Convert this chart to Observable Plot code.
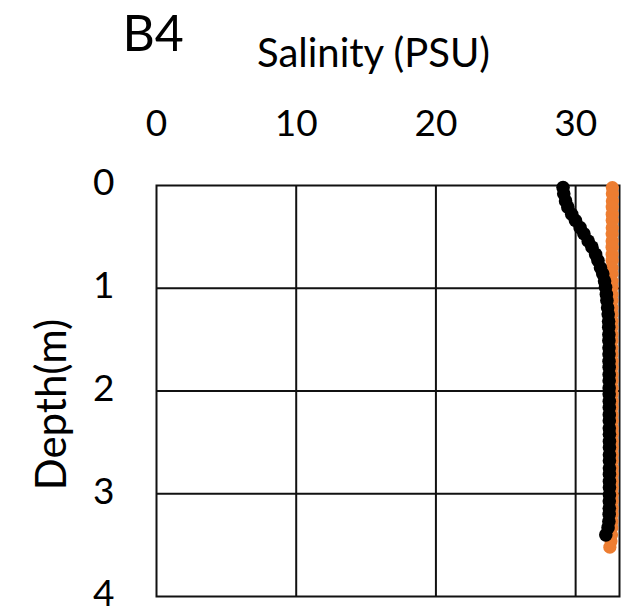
<!DOCTYPE html>
<html>
<head>
<meta charset="utf-8">
<script src="https://cdn.jsdelivr.net/npm/d3@7"></script>
<script src="https://cdn.jsdelivr.net/npm/@observablehq/plot@0.6"></script>
<style>
  html, body { margin: 0; padding: 0; background: #fff; }
</style>
</head>
<body>
<div id="chart"></div>
<script>
// Station and axis titles
const stationName = "B4";
const xTitle = "Salinity (PSU)";
const yTitle = "Depth(m)";

// Tick labels and grid positions
const xTicks = [0, 10, 20, 30];
const yTicks = [0, 1, 2, 3, 4];
const gridSalinity = [10, 20, 30];
const gridDepth = [1, 2, 3];

// Orange profile (depth in m, salinity in PSU)
const orangeDepth = [
  0.02, 0.08, 0.15, 0.21, 0.28, 0.34, 0.41, 0.47, 0.54, 0.60,
  0.67, 0.73, 0.80, 0.86, 0.93, 0.99, 1.06, 1.12, 1.19, 1.25,
  1.32, 1.38, 1.45, 1.51, 1.58, 1.64, 1.71, 1.77, 1.84, 1.90,
  1.97, 2.03, 2.10, 2.16, 2.23, 2.29, 2.36, 2.42, 2.49, 2.55,
  2.62, 2.68, 2.75, 2.81, 2.88, 2.94, 3.01, 3.07, 3.14, 3.20,
  3.27, 3.33, 3.40, 3.46, 3.52
];
const orangeSalinity = [
  32.63, 32.63, 32.63, 32.62, 32.62, 32.62, 32.62, 32.61, 32.61, 32.61,
  32.61, 32.61, 32.60, 32.60, 32.60, 32.60, 32.60, 32.60, 32.60, 32.60,
  32.60, 32.60, 32.60, 32.60, 32.60, 32.60, 32.61, 32.61, 32.61, 32.61,
  32.61, 32.61, 32.61, 32.61, 32.61, 32.62, 32.62, 32.62, 32.62, 32.62,
  32.62, 32.62, 32.62, 32.62, 32.62, 32.62, 32.62, 32.62, 32.61, 32.61,
  32.60, 32.59, 32.57, 32.53, 32.45
];

// Black profile (depth in m, salinity in PSU)
const blackDepth = [
  0.02, 0.08, 0.15, 0.21, 0.28, 0.34, 0.41, 0.47, 0.54, 0.60,
  0.67, 0.73, 0.80, 0.86, 0.93, 0.99, 1.06, 1.12, 1.19, 1.25,
  1.32, 1.38, 1.45, 1.51, 1.58, 1.64, 1.71, 1.77, 1.84, 1.90,
  1.97, 2.03, 2.10, 2.16, 2.23, 2.29, 2.36, 2.42, 2.49, 2.55,
  2.62, 2.68, 2.75, 2.81, 2.88, 2.94, 3.01, 3.07, 3.14, 3.20,
  3.27, 3.33, 3.40
];
const blackSalinity = [
  29.10, 29.15, 29.28, 29.44, 29.72, 29.99, 30.32, 30.59, 30.90, 31.17,
  31.43, 31.60, 31.78, 31.94, 32.07, 32.14, 32.20, 32.24, 32.29, 32.33,
  32.36, 32.37, 32.38, 32.38, 32.39, 32.39, 32.39, 32.40, 32.40, 32.40,
  32.40, 32.40, 32.41, 32.41, 32.41, 32.41, 32.41, 32.42, 32.42, 32.42,
  32.42, 32.42, 32.42, 32.42, 32.42, 32.42, 32.42, 32.41, 32.41, 32.40,
  32.38, 32.32, 32.16
];

const orangeRows = orangeDepth.map((d, i) => ({depth: d, salinity: orangeSalinity[i]}));
const blackRows = blackDepth.map((d, i) => ({depth: d, salinity: blackSalinity[i]}));

const lineColor = "#111";
const font = "Lato, 'Open Sans', sans-serif";

const chart = Plot.plot({
  width: 624,
  height: 610,
  marginLeft: 156,
  marginRight: 5,
  marginTop: 185,
  marginBottom: 14,
  style: {fontFamily: font, background: "#fff", color: "#000"},
  x: {domain: [0, 33.14], axis: null},
  y: {domain: [0, 4], reverse: true, axis: null},
  marks: [
    Plot.gridX(gridSalinity, {stroke: lineColor, strokeOpacity: 1, strokeWidth: 2}),
    Plot.gridY(gridDepth, {stroke: lineColor, strokeOpacity: 1, strokeWidth: 2}),
    Plot.frame({stroke: lineColor, strokeWidth: 2}),
    Plot.dot(orangeRows, {x: "salinity", y: "depth", r: 6.6, fill: "#ED7D31", stroke: "none"}),
    Plot.dot(blackRows, {x: "salinity", y: "depth", r: 6.8, fill: "#000", stroke: "none"}),
    // salinity tick labels above the frame
    Plot.text(xTicks, {
      x: d => d, text: d => String(d), frameAnchor: "top",
      dy: -61, lineAnchor: "middle", fontSize: 37, fill: "#000"
    }),
    // depth tick labels left of the frame
    Plot.text(yTicks, {
      y: d => d, text: d => String(d), frameAnchor: "left",
      dx: -42, dy: -2, textAnchor: "end", lineAnchor: "middle", fontSize: 37, fill: "#000"
    }),
    // axis titles and station name
    Plot.text([xTitle], {
      text: d => d, frameAnchor: "top-left", dx: 217, dy: -131,
      textAnchor: "middle", lineAnchor: "middle", fontSize: 40, fill: "#000"
    }),
    Plot.text([stationName], {
      text: d => d, frameAnchor: "top-left", dx: -34, dy: -151,
      textAnchor: "start", lineAnchor: "middle", fontSize: 50, fill: "#000"
    }),
    Plot.text([yTitle], {
      text: d => d, frameAnchor: "left", dx: -104, dy: 13.5, rotate: -90,
      textAnchor: "middle", lineAnchor: "middle", fontSize: 42, fill: "#000"
    })
  ]
});

document.getElementById("chart").append(chart);
</script>
</body>
</html>
